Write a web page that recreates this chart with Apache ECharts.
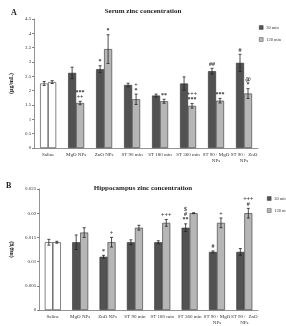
<!DOCTYPE html>
<html><head><meta charset="utf-8">
<script src="https://cdn.jsdelivr.net/npm/echarts@6/dist/echarts.min.js"></script>
<style>html,body{margin:0;padding:0;background:#fff}#c{width:286px;height:326px}</style>
</head><body><div id="c"></div>
<script>
const categories = ['Saline','MgO NPs','ZnO NPs','ST 90 min','ST 180 min','ST 360 min','ST 90+ MgO\nNPs','ST 90+  ZnO\nNPs'];
const seriesNames = ['30 min','120 min'];
const yTicksA = [0,0.5,1,1.5,2,2.5,3,3.5,4,4.5];
const yTicksB = [0,0.005,0.01,0.015,0.02,0.025];

const serum30 = [2.25,2.62,2.75,2.2,1.83,2.25,2.68,2.97];
const serum30Err = [0.07,0.2,0.12,0.06,0.05,0.23,0.1,0.3];
const serum30Marks = ['','','*','','','','##','#'];
const serum120 = [2.3,1.57,3.45,1.7,1.63,1.47,1.65,1.9];
const serum120Err = [0.05,0.06,0.5,0.18,0.07,0.08,0.08,0.17];
const serum120Marks = ['','***\n++','*','+\n*','**','+++\n***','***','@\n*'];

const hip30 = [0.014,0.014,0.011,0.014,0.014,0.017,0.012,0.012];
const hip30Err = [0.0006,0.0015,0.0003,0.0005,0.0003,0.0008,0.0002,0.0007];
const hip30Marks = ['','','*','','','$\n#\n**','#',''];
const hip120 = [0.014,0.016,0.014,0.017,0.018,0.020,0.018,0.020];
const hip120Err = [0.0002,0.001,0.001,0.0005,0.0007,0.0001,0.001,0.001];
const hip120Marks = ['','','+','','+++','','+','+++\n#'];

const DARK = '#525252', LIGHT = '#b6b6b6';
const FONT = '"Liberation Serif", "DejaVu Serif", serif';
const BW = 8;

function barData(vals){
  return vals.map((v,i)=> i===0 ? {value:v, itemStyle:{color:'#ffffff'}} : v);
}
function errSeries(vals, errs, marks, offset, axisIdx){
  return {
    type:'custom', xAxisIndex: axisIdx, yAxisIndex: axisIdx,
    silent:true, z:5,
    data: vals.map((v,i)=>[i, v, errs[i]]),
    encode:{x:0, y:1},
    renderItem: function(params, api){
      const x = api.value(0), v = api.value(1), e = api.value(2);
      const top = api.coord([x, v+e]);
      const bot = api.coord([x, v-e]);
      const cx = top[0] + offset;
      const children = [
        {type:'line', shape:{x1:cx, y1:top[1], x2:cx, y2:bot[1]}, style:{stroke:'#222', lineWidth:0.8}},
        {type:'line', shape:{x1:cx-1.5, y1:top[1], x2:cx+1.5, y2:top[1]}, style:{stroke:'#222', lineWidth:0.8}},
        {type:'line', shape:{x1:cx-1.5, y1:bot[1], x2:cx+1.5, y2:bot[1]}, style:{stroke:'#222', lineWidth:0.8}}
      ];
      const m = marks[params.dataIndex];
      if (m) {
        children.push({type:'text', style:{text:m, x:cx, y:top[1]-1.5, align:'center', verticalAlign:'bottom',
          fontSize:6, fontWeight:'bold', fontFamily:FONT, fill:'#333', lineHeight:5}});
      }
      return {type:'group', children: children};
    }
  };
}
function barSeries(name, vals, color, axisIdx){
  return {type:'bar', name:name, xAxisIndex:axisIdx, yAxisIndex:axisIdx, barWidth:BW, barGap:'0%',
    itemStyle:{color:color, borderColor:'#333', borderWidth:0.6},
    data: barData(vals)};
}
function xAxis(gi){
  return {type:'category', gridIndex:gi, data:categories,
    axisLine:{lineStyle:{color:'#777', width:0.8}}, axisTick:{length:2, lineStyle:{color:'#777'}},
    axisLabel:{interval:0, fontSize:5, fontFamily:FONT, color:'#333', margin:4, lineHeight:6}};
}
function yAxis(gi, ticks, name, gap){
  return {type:'value', gridIndex:gi, min:ticks[0], max:ticks[ticks.length-1], interval:ticks[1]-ticks[0],
    name:name, nameLocation:'middle', nameGap:gap, nameRotate:90,
    nameTextStyle:{fontSize:6, fontWeight:'bold', fontFamily:FONT, color:'#222'},
    axisLine:{show:true, lineStyle:{color:'#777', width:0.8}}, axisTick:{show:true, length:2, lineStyle:{color:'#777'}},
    splitLine:{show:false},
    axisLabel:{fontSize:5, fontFamily:FONT, color:'#333', margin:3}};
}
function legend(left, top){
  return {orient:'vertical', left:left, top:top, itemWidth:4, itemHeight:4, itemGap:7, icon:'rect',
    textStyle:{fontSize:4.5, fontFamily:FONT, color:'#333', padding:[0,0,0,-2]},
    data:[{name:seriesNames[0], itemStyle:{color:DARK, borderColor:'#333', borderWidth:0.4}},
          {name:seriesNames[1], itemStyle:{color:LIGHT, borderColor:'#333', borderWidth:0.4}}]};
}

const chart = echarts.init(document.getElementById('c'), null, {renderer:'canvas'});
chart.setOption({
  animation:false,
  backgroundColor:'#fff',
  title:[
    {text:'Serum zinc concentration', left:'center', top:3, textStyle:{fontSize:7, fontWeight:'bold', fontFamily:FONT, color:'#222'}},
    {text:'A', left:6, top:4, textStyle:{fontSize:8, fontWeight:'bold', fontFamily:FONT, color:'#222'}},
    {text:'Hippocampus zinc concentration', left:'center', top:180, textStyle:{fontSize:7, fontWeight:'bold', fontFamily:FONT, color:'#222'}},
    {text:'B', left:1, top:177, textStyle:{fontSize:8, fontWeight:'bold', fontFamily:FONT, color:'#222'}}
  ],
  legend:[legend(254, 20), legend(262, 191)],
  grid:[
    {left:26, top:19, width:232, height:129},
    {left:22, top:189, width:236, height:125}
  ],
  xAxis:[xAxis(0), xAxis(1)],
  yAxis:[yAxis(0, yTicksA, '(µg/mL)', 17), yAxis(1, yTicksB, '(mg/g)', 16)],
  series:[
    barSeries(seriesNames[0], serum30, DARK, 0),
    barSeries(seriesNames[1], serum120, LIGHT, 0),
    errSeries(serum30, serum30Err, serum30Marks, -BW/2, 0),
    errSeries(serum120, serum120Err, serum120Marks, BW/2, 0),
    barSeries(seriesNames[0], hip30, DARK, 1),
    barSeries(seriesNames[1], hip120, LIGHT, 1),
    errSeries(hip30, hip30Err, hip30Marks, -BW/2, 1),
    errSeries(hip120, hip120Err, hip120Marks, BW/2, 1)
  ]
});
</script></body></html>
